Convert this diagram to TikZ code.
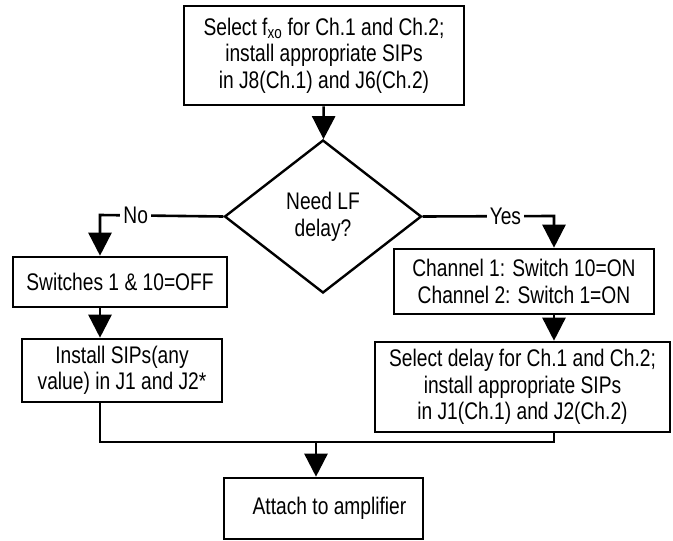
\documentclass[tikz,border=0pt]{standalone}
\usepackage{fontspec}
\setmainfont{Liberation Sans}[FakeStretch=0.8]
\usetikzlibrary{shapes.geometric,arrows.meta}

\begin{document}
\begin{tikzpicture}[x=1pt,y=-1pt]
\tikzstyle{box}=[draw,line width=2.6pt,align=center,inner sep=0pt,font=\fontsize{24}{26.5}\selectfont]
\tikzstyle{decision}=[draw,diamond,line width=2.4pt,aspect=1.29,minimum width=197pt,minimum height=153pt,inner sep=0pt,align=center,font=\fontsize{24}{27}\selectfont]
\tikzstyle{flow}=[line width=2.6pt,-{Triangle[width=23pt,length=23pt]}]
\tikzstyle{merge}=[line width=2.6pt]
\tikzstyle{answer}=[fill=white,inner sep=3pt,font=\fontsize{24}{27}\selectfont]
\useasboundingbox (0,0) rectangle (673,541);

\path (324,55.5) node[box,minimum width=280pt,minimum height=99pt](fxo){Select f\textsubscript{xo} for Ch.1 and Ch.2;\\install appropriate SIPs\\in J8(Ch.1) and J6(Ch.2)};
\path (323,216.5) node[decision](lf){Need LF\\delay?};
\path (120,282) node[box,minimum width=214pt,minimum height=50pt](off){Switches 1 \& 10=OFF};
\path (122,370.5) node[box,minimum width=200pt,minimum height=63pt](anysip){Install SIPs(any\\value) in J1 and J2*};
\path (524,281.5) node[box,minimum width=260pt,minimum height=65pt](on){Channel 1: Switch 10=ON\\Channel 2: Switch 1=ON};
\path (522.5,387) node[box,minimum width=295pt,minimum height=90pt](delay){Select delay for Ch.1 and Ch.2;\\install appropriate SIPs\\in J1(Ch.1) and J2(Ch.2)};
\path (323.5,508.5) node[box,minimum width=199pt,minimum height=61pt](amp){\hspace*{12pt}Attach to amplifier};
\coordinate (no) at (100,215);
\coordinate (yes) at (554,216);
\coordinate (tie) at (316,442);

\draw[flow] (fxo) -- (lf);
\draw[flow] (lf.west) -- node[answer,pos=0.71]{No} (no) -- (off.north -| no);
\draw[flow] (lf.east) -- node[answer,pos=0.63]{Yes} (yes) -- (on.north -| yes);
\draw[flow] (off.south -| no) -- (anysip.north -| no);
\draw[flow] (on.south -| yes) -- (delay.north -| yes);
\draw[merge] (anysip.south -| no) |- (tie) -| (delay.south -| yes);
\draw[flow] (tie) -- (tie |- amp.north);
\end{tikzpicture}
\end{document}
